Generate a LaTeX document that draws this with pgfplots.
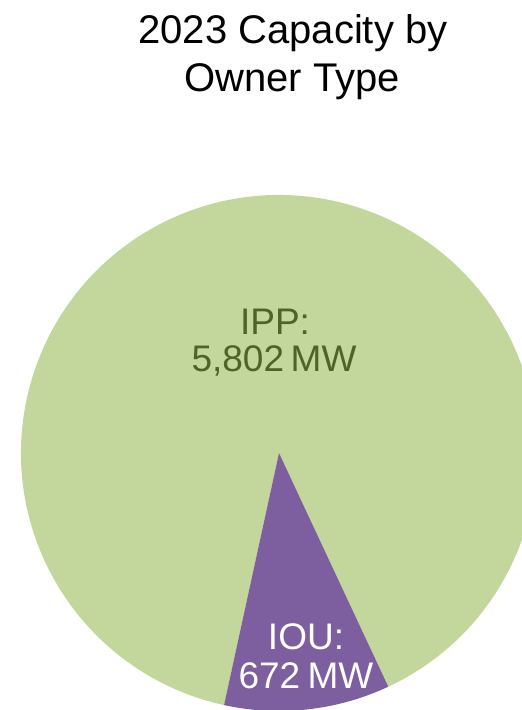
\documentclass[border=0pt]{standalone}
\usepackage{pgfplots}
\usepackage{pgfplotstable}
\pgfplotsset{compat=1.18}
\usepackage{fontspec}
\setmainfont{Liberation Sans}
\definecolor{ippgreen}{HTML}{C3D69B}
\definecolor{ioupurple}{HTML}{7D5FA0}
\definecolor{ipptext}{HTML}{4F6228}
\pgfplotstableread{
owner value
IPP 5802
IOU 672
}\capdata
\pgfplotstablegetelem{0}{value}\of\capdata \let\vipp\pgfplotsretval
\pgfplotstablegetelem{1}{value}\of\capdata \let\viou\pgfplotsretval
\begin{document}
\begin{tikzpicture}
\begin{axis}[x=1pt,y=1pt,xmin=0,xmax=522,ymin=0,ymax=710,hide axis,clip=true]
\pgfmathsetmacro{\tot}{\vipp+\viou}
\pgfmathsetmacro{\aiou}{(\viou/\tot)*360}
\pgfmathsetmacro{\sa}{-102.3}
\pgfmathsetmacro{\ea}{\sa+\aiou}
\pgfmathsetmacro{\eb}{\sa+360}
\fill[ippgreen] (axis cs:279,257) -- ++(\ea:258pt) arc[start angle=\ea,end angle=\eb,radius=258pt] -- cycle;
\fill[ioupurple] (axis cs:279,257) -- ++(\sa:258pt) arc[start angle=\sa,end angle=\ea,radius=258pt] -- cycle;
\node[anchor=base,font=\fontsize{40}{46}\selectfont] at (axis cs:293,666) {2023 Capacity by};
\node[anchor=base,font=\fontsize{40}{46}\selectfont] at (axis cs:292,618) {Owner Type};
\node[anchor=base,text=ipptext,font=\fontsize{37}{42}\selectfont] at (axis cs:275,375) {IPP:};
\node[anchor=base,text=ipptext,font=\fontsize{37}{42}\selectfont] at (axis cs:274,338) {5,802\hspace{0.18em}MW};
\node[anchor=base,text=white,font=\fontsize{37}{42}\selectfont] at (axis cs:306,60) {IOU:};
\node[anchor=base,text=white,font=\fontsize{37}{42}\selectfont] at (axis cs:306,21) {672\hspace{0.2em}MW};
\end{axis}
\pgfresetboundingbox
\useasboundingbox (current axis.south west) rectangle (current axis.north east);
\end{tikzpicture}
\end{document}
